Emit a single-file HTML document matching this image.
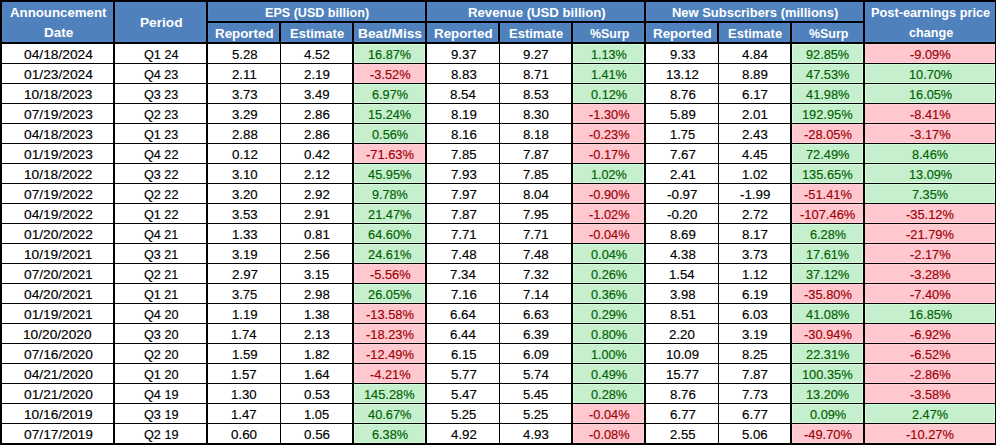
<!DOCTYPE html>
<html><head><meta charset="utf-8"><style>
html,body{margin:0;padding:0;}
body{width:996px;height:445px;background:#000;position:relative;overflow:hidden;font-family:"Liberation Sans",sans-serif;}
.r{position:absolute;}
.t{position:absolute;display:block;height:0;line-height:0;white-space:nowrap;transform-origin:0 0;-webkit-text-stroke:0.15px currentColor;}
</style></head><body>
<div class="r" style="left:2px;top:2px;width:111px;height:40px;background:#4F81BD;box-shadow:inset 0 0 0 1px #5285C3"></div>
<div class="r" style="left:115px;top:2px;width:91px;height:40px;background:#4F81BD;box-shadow:inset 0 0 0 1px #5285C3"></div>
<div class="r" style="left:208px;top:2px;width:217px;height:19px;background:#4F81BD;box-shadow:inset 0 0 0 1px #5285C3"></div>
<div class="r" style="left:427px;top:2px;width:217px;height:19px;background:#4F81BD;box-shadow:inset 0 0 0 1px #5285C3"></div>
<div class="r" style="left:646px;top:2px;width:217px;height:19px;background:#4F81BD;box-shadow:inset 0 0 0 1px #5285C3"></div>
<div class="r" style="left:865px;top:2px;width:130px;height:40px;background:#4F81BD;box-shadow:inset 0 0 0 1px #5285C3"></div>
<div class="r" style="left:208px;top:23px;width:71px;height:19px;background:#4F81BD;box-shadow:inset 0 0 0 1px #5285C3"></div>
<div class="r" style="left:281px;top:23px;width:71px;height:19px;background:#4F81BD;box-shadow:inset 0 0 0 1px #5285C3"></div>
<div class="r" style="left:354px;top:23px;width:71px;height:19px;background:#4F81BD;box-shadow:inset 0 0 0 1px #5285C3"></div>
<div class="r" style="left:427px;top:23px;width:71px;height:19px;background:#4F81BD;box-shadow:inset 0 0 0 1px #5285C3"></div>
<div class="r" style="left:500px;top:23px;width:71px;height:19px;background:#4F81BD;box-shadow:inset 0 0 0 1px #5285C3"></div>
<div class="r" style="left:573px;top:23px;width:71px;height:19px;background:#4F81BD;box-shadow:inset 0 0 0 1px #5285C3"></div>
<div class="r" style="left:646px;top:23px;width:71px;height:19px;background:#4F81BD;box-shadow:inset 0 0 0 1px #5285C3"></div>
<div class="r" style="left:719px;top:23px;width:71px;height:19px;background:#4F81BD;box-shadow:inset 0 0 0 1px #5285C3"></div>
<div class="r" style="left:792px;top:23px;width:71px;height:19px;background:#4F81BD;box-shadow:inset 0 0 0 1px #5285C3"></div>
<div class="r" style="left:2px;top:44px;width:111px;height:19px;background:#fff"></div>
<div class="r" style="left:115px;top:44px;width:91px;height:19px;background:#fff"></div>
<div class="r" style="left:208px;top:44px;width:72px;height:19px;background:#fff"></div>
<div class="r" style="left:281px;top:44px;width:71px;height:19px;background:#fff"></div>
<div class="r" style="left:354px;top:44px;width:71px;height:19px;background:#C6EFCE;box-shadow:inset 0 0 0 1px #D2FBDA"></div>
<div class="r" style="left:427px;top:44px;width:72px;height:19px;background:#fff"></div>
<div class="r" style="left:500px;top:44px;width:71px;height:19px;background:#fff"></div>
<div class="r" style="left:573px;top:44px;width:71px;height:19px;background:#C6EFCE;box-shadow:inset 0 0 0 1px #D2FBDA"></div>
<div class="r" style="left:646px;top:44px;width:72px;height:19px;background:#fff"></div>
<div class="r" style="left:719px;top:44px;width:71px;height:19px;background:#fff"></div>
<div class="r" style="left:792px;top:44px;width:71px;height:19px;background:#C6EFCE;box-shadow:inset 0 0 0 1px #D2FBDA"></div>
<div class="r" style="left:865px;top:44px;width:130px;height:19px;background:#FFC7CE;box-shadow:inset 0 0 0 1px #FFD2D8"></div>
<div class="r" style="left:2px;top:64px;width:111px;height:19px;background:#fff"></div>
<div class="r" style="left:115px;top:64px;width:91px;height:19px;background:#fff"></div>
<div class="r" style="left:208px;top:64px;width:72px;height:19px;background:#fff"></div>
<div class="r" style="left:281px;top:64px;width:71px;height:19px;background:#fff"></div>
<div class="r" style="left:354px;top:64px;width:71px;height:19px;background:#FFC7CE;box-shadow:inset 0 0 0 1px #FFD2D8"></div>
<div class="r" style="left:427px;top:64px;width:72px;height:19px;background:#fff"></div>
<div class="r" style="left:500px;top:64px;width:71px;height:19px;background:#fff"></div>
<div class="r" style="left:573px;top:64px;width:71px;height:19px;background:#C6EFCE;box-shadow:inset 0 0 0 1px #D2FBDA"></div>
<div class="r" style="left:646px;top:64px;width:72px;height:19px;background:#fff"></div>
<div class="r" style="left:719px;top:64px;width:71px;height:19px;background:#fff"></div>
<div class="r" style="left:792px;top:64px;width:71px;height:19px;background:#C6EFCE;box-shadow:inset 0 0 0 1px #D2FBDA"></div>
<div class="r" style="left:865px;top:64px;width:130px;height:19px;background:#C6EFCE;box-shadow:inset 0 0 0 1px #D2FBDA"></div>
<div class="r" style="left:2px;top:84px;width:111px;height:19px;background:#fff"></div>
<div class="r" style="left:115px;top:84px;width:91px;height:19px;background:#fff"></div>
<div class="r" style="left:208px;top:84px;width:72px;height:19px;background:#fff"></div>
<div class="r" style="left:281px;top:84px;width:71px;height:19px;background:#fff"></div>
<div class="r" style="left:354px;top:84px;width:71px;height:19px;background:#C6EFCE;box-shadow:inset 0 0 0 1px #D2FBDA"></div>
<div class="r" style="left:427px;top:84px;width:72px;height:19px;background:#fff"></div>
<div class="r" style="left:500px;top:84px;width:71px;height:19px;background:#fff"></div>
<div class="r" style="left:573px;top:84px;width:71px;height:19px;background:#C6EFCE;box-shadow:inset 0 0 0 1px #D2FBDA"></div>
<div class="r" style="left:646px;top:84px;width:72px;height:19px;background:#fff"></div>
<div class="r" style="left:719px;top:84px;width:71px;height:19px;background:#fff"></div>
<div class="r" style="left:792px;top:84px;width:71px;height:19px;background:#C6EFCE;box-shadow:inset 0 0 0 1px #D2FBDA"></div>
<div class="r" style="left:865px;top:84px;width:130px;height:19px;background:#C6EFCE;box-shadow:inset 0 0 0 1px #D2FBDA"></div>
<div class="r" style="left:2px;top:104px;width:111px;height:19px;background:#fff"></div>
<div class="r" style="left:115px;top:104px;width:91px;height:19px;background:#fff"></div>
<div class="r" style="left:208px;top:104px;width:72px;height:19px;background:#fff"></div>
<div class="r" style="left:281px;top:104px;width:71px;height:19px;background:#fff"></div>
<div class="r" style="left:354px;top:104px;width:71px;height:19px;background:#C6EFCE;box-shadow:inset 0 0 0 1px #D2FBDA"></div>
<div class="r" style="left:427px;top:104px;width:72px;height:19px;background:#fff"></div>
<div class="r" style="left:500px;top:104px;width:71px;height:19px;background:#fff"></div>
<div class="r" style="left:573px;top:104px;width:71px;height:19px;background:#FFC7CE;box-shadow:inset 0 0 0 1px #FFD2D8"></div>
<div class="r" style="left:646px;top:104px;width:72px;height:19px;background:#fff"></div>
<div class="r" style="left:719px;top:104px;width:71px;height:19px;background:#fff"></div>
<div class="r" style="left:792px;top:104px;width:71px;height:19px;background:#C6EFCE;box-shadow:inset 0 0 0 1px #D2FBDA"></div>
<div class="r" style="left:865px;top:104px;width:130px;height:19px;background:#FFC7CE;box-shadow:inset 0 0 0 1px #FFD2D8"></div>
<div class="r" style="left:2px;top:124px;width:111px;height:19px;background:#fff"></div>
<div class="r" style="left:115px;top:124px;width:91px;height:19px;background:#fff"></div>
<div class="r" style="left:208px;top:124px;width:72px;height:19px;background:#fff"></div>
<div class="r" style="left:281px;top:124px;width:71px;height:19px;background:#fff"></div>
<div class="r" style="left:354px;top:124px;width:71px;height:19px;background:#C6EFCE;box-shadow:inset 0 0 0 1px #D2FBDA"></div>
<div class="r" style="left:427px;top:124px;width:72px;height:19px;background:#fff"></div>
<div class="r" style="left:500px;top:124px;width:71px;height:19px;background:#fff"></div>
<div class="r" style="left:573px;top:124px;width:71px;height:19px;background:#FFC7CE;box-shadow:inset 0 0 0 1px #FFD2D8"></div>
<div class="r" style="left:646px;top:124px;width:72px;height:19px;background:#fff"></div>
<div class="r" style="left:719px;top:124px;width:71px;height:19px;background:#fff"></div>
<div class="r" style="left:792px;top:124px;width:71px;height:19px;background:#FFC7CE;box-shadow:inset 0 0 0 1px #FFD2D8"></div>
<div class="r" style="left:865px;top:124px;width:130px;height:19px;background:#FFC7CE;box-shadow:inset 0 0 0 1px #FFD2D8"></div>
<div class="r" style="left:2px;top:144px;width:111px;height:19px;background:#fff"></div>
<div class="r" style="left:115px;top:144px;width:91px;height:19px;background:#fff"></div>
<div class="r" style="left:208px;top:144px;width:72px;height:19px;background:#fff"></div>
<div class="r" style="left:281px;top:144px;width:71px;height:19px;background:#fff"></div>
<div class="r" style="left:354px;top:144px;width:71px;height:19px;background:#FFC7CE;box-shadow:inset 0 0 0 1px #FFD2D8"></div>
<div class="r" style="left:427px;top:144px;width:72px;height:19px;background:#fff"></div>
<div class="r" style="left:500px;top:144px;width:71px;height:19px;background:#fff"></div>
<div class="r" style="left:573px;top:144px;width:71px;height:19px;background:#FFC7CE;box-shadow:inset 0 0 0 1px #FFD2D8"></div>
<div class="r" style="left:646px;top:144px;width:72px;height:19px;background:#fff"></div>
<div class="r" style="left:719px;top:144px;width:71px;height:19px;background:#fff"></div>
<div class="r" style="left:792px;top:144px;width:71px;height:19px;background:#C6EFCE;box-shadow:inset 0 0 0 1px #D2FBDA"></div>
<div class="r" style="left:865px;top:144px;width:130px;height:19px;background:#C6EFCE;box-shadow:inset 0 0 0 1px #D2FBDA"></div>
<div class="r" style="left:2px;top:164px;width:111px;height:19px;background:#fff"></div>
<div class="r" style="left:115px;top:164px;width:91px;height:19px;background:#fff"></div>
<div class="r" style="left:208px;top:164px;width:72px;height:19px;background:#fff"></div>
<div class="r" style="left:281px;top:164px;width:71px;height:19px;background:#fff"></div>
<div class="r" style="left:354px;top:164px;width:71px;height:19px;background:#C6EFCE;box-shadow:inset 0 0 0 1px #D2FBDA"></div>
<div class="r" style="left:427px;top:164px;width:72px;height:19px;background:#fff"></div>
<div class="r" style="left:500px;top:164px;width:71px;height:19px;background:#fff"></div>
<div class="r" style="left:573px;top:164px;width:71px;height:19px;background:#C6EFCE;box-shadow:inset 0 0 0 1px #D2FBDA"></div>
<div class="r" style="left:646px;top:164px;width:72px;height:19px;background:#fff"></div>
<div class="r" style="left:719px;top:164px;width:71px;height:19px;background:#fff"></div>
<div class="r" style="left:792px;top:164px;width:71px;height:19px;background:#C6EFCE;box-shadow:inset 0 0 0 1px #D2FBDA"></div>
<div class="r" style="left:865px;top:164px;width:130px;height:19px;background:#C6EFCE;box-shadow:inset 0 0 0 1px #D2FBDA"></div>
<div class="r" style="left:2px;top:184px;width:111px;height:19px;background:#fff"></div>
<div class="r" style="left:115px;top:184px;width:91px;height:19px;background:#fff"></div>
<div class="r" style="left:208px;top:184px;width:72px;height:19px;background:#fff"></div>
<div class="r" style="left:281px;top:184px;width:71px;height:19px;background:#fff"></div>
<div class="r" style="left:354px;top:184px;width:71px;height:19px;background:#C6EFCE;box-shadow:inset 0 0 0 1px #D2FBDA"></div>
<div class="r" style="left:427px;top:184px;width:72px;height:19px;background:#fff"></div>
<div class="r" style="left:500px;top:184px;width:71px;height:19px;background:#fff"></div>
<div class="r" style="left:573px;top:184px;width:71px;height:19px;background:#FFC7CE;box-shadow:inset 0 0 0 1px #FFD2D8"></div>
<div class="r" style="left:646px;top:184px;width:72px;height:19px;background:#fff"></div>
<div class="r" style="left:719px;top:184px;width:71px;height:19px;background:#fff"></div>
<div class="r" style="left:792px;top:184px;width:71px;height:19px;background:#FFC7CE;box-shadow:inset 0 0 0 1px #FFD2D8"></div>
<div class="r" style="left:865px;top:184px;width:130px;height:19px;background:#C6EFCE;box-shadow:inset 0 0 0 1px #D2FBDA"></div>
<div class="r" style="left:2px;top:204px;width:111px;height:19px;background:#fff"></div>
<div class="r" style="left:115px;top:204px;width:91px;height:19px;background:#fff"></div>
<div class="r" style="left:208px;top:204px;width:72px;height:19px;background:#fff"></div>
<div class="r" style="left:281px;top:204px;width:71px;height:19px;background:#fff"></div>
<div class="r" style="left:354px;top:204px;width:71px;height:19px;background:#C6EFCE;box-shadow:inset 0 0 0 1px #D2FBDA"></div>
<div class="r" style="left:427px;top:204px;width:72px;height:19px;background:#fff"></div>
<div class="r" style="left:500px;top:204px;width:71px;height:19px;background:#fff"></div>
<div class="r" style="left:573px;top:204px;width:71px;height:19px;background:#FFC7CE;box-shadow:inset 0 0 0 1px #FFD2D8"></div>
<div class="r" style="left:646px;top:204px;width:72px;height:19px;background:#fff"></div>
<div class="r" style="left:719px;top:204px;width:71px;height:19px;background:#fff"></div>
<div class="r" style="left:792px;top:204px;width:71px;height:19px;background:#FFC7CE;box-shadow:inset 0 0 0 1px #FFD2D8"></div>
<div class="r" style="left:865px;top:204px;width:130px;height:19px;background:#FFC7CE;box-shadow:inset 0 0 0 1px #FFD2D8"></div>
<div class="r" style="left:2px;top:224px;width:111px;height:19px;background:#fff"></div>
<div class="r" style="left:115px;top:224px;width:91px;height:19px;background:#fff"></div>
<div class="r" style="left:208px;top:224px;width:72px;height:19px;background:#fff"></div>
<div class="r" style="left:281px;top:224px;width:71px;height:19px;background:#fff"></div>
<div class="r" style="left:354px;top:224px;width:71px;height:19px;background:#C6EFCE;box-shadow:inset 0 0 0 1px #D2FBDA"></div>
<div class="r" style="left:427px;top:224px;width:72px;height:19px;background:#fff"></div>
<div class="r" style="left:500px;top:224px;width:71px;height:19px;background:#fff"></div>
<div class="r" style="left:573px;top:224px;width:71px;height:19px;background:#FFC7CE;box-shadow:inset 0 0 0 1px #FFD2D8"></div>
<div class="r" style="left:646px;top:224px;width:72px;height:19px;background:#fff"></div>
<div class="r" style="left:719px;top:224px;width:71px;height:19px;background:#fff"></div>
<div class="r" style="left:792px;top:224px;width:71px;height:19px;background:#C6EFCE;box-shadow:inset 0 0 0 1px #D2FBDA"></div>
<div class="r" style="left:865px;top:224px;width:130px;height:19px;background:#FFC7CE;box-shadow:inset 0 0 0 1px #FFD2D8"></div>
<div class="r" style="left:2px;top:244px;width:111px;height:19px;background:#fff"></div>
<div class="r" style="left:115px;top:244px;width:91px;height:19px;background:#fff"></div>
<div class="r" style="left:208px;top:244px;width:72px;height:19px;background:#fff"></div>
<div class="r" style="left:281px;top:244px;width:71px;height:19px;background:#fff"></div>
<div class="r" style="left:354px;top:244px;width:71px;height:19px;background:#C6EFCE;box-shadow:inset 0 0 0 1px #D2FBDA"></div>
<div class="r" style="left:427px;top:244px;width:72px;height:19px;background:#fff"></div>
<div class="r" style="left:500px;top:244px;width:71px;height:19px;background:#fff"></div>
<div class="r" style="left:573px;top:244px;width:71px;height:19px;background:#C6EFCE;box-shadow:inset 0 0 0 1px #D2FBDA"></div>
<div class="r" style="left:646px;top:244px;width:72px;height:19px;background:#fff"></div>
<div class="r" style="left:719px;top:244px;width:71px;height:19px;background:#fff"></div>
<div class="r" style="left:792px;top:244px;width:71px;height:19px;background:#C6EFCE;box-shadow:inset 0 0 0 1px #D2FBDA"></div>
<div class="r" style="left:865px;top:244px;width:130px;height:19px;background:#FFC7CE;box-shadow:inset 0 0 0 1px #FFD2D8"></div>
<div class="r" style="left:2px;top:264px;width:111px;height:19px;background:#fff"></div>
<div class="r" style="left:115px;top:264px;width:91px;height:19px;background:#fff"></div>
<div class="r" style="left:208px;top:264px;width:72px;height:19px;background:#fff"></div>
<div class="r" style="left:281px;top:264px;width:71px;height:19px;background:#fff"></div>
<div class="r" style="left:354px;top:264px;width:71px;height:19px;background:#FFC7CE;box-shadow:inset 0 0 0 1px #FFD2D8"></div>
<div class="r" style="left:427px;top:264px;width:72px;height:19px;background:#fff"></div>
<div class="r" style="left:500px;top:264px;width:71px;height:19px;background:#fff"></div>
<div class="r" style="left:573px;top:264px;width:71px;height:19px;background:#C6EFCE;box-shadow:inset 0 0 0 1px #D2FBDA"></div>
<div class="r" style="left:646px;top:264px;width:72px;height:19px;background:#fff"></div>
<div class="r" style="left:719px;top:264px;width:71px;height:19px;background:#fff"></div>
<div class="r" style="left:792px;top:264px;width:71px;height:19px;background:#C6EFCE;box-shadow:inset 0 0 0 1px #D2FBDA"></div>
<div class="r" style="left:865px;top:264px;width:130px;height:19px;background:#FFC7CE;box-shadow:inset 0 0 0 1px #FFD2D8"></div>
<div class="r" style="left:2px;top:284px;width:111px;height:19px;background:#fff"></div>
<div class="r" style="left:115px;top:284px;width:91px;height:19px;background:#fff"></div>
<div class="r" style="left:208px;top:284px;width:72px;height:19px;background:#fff"></div>
<div class="r" style="left:281px;top:284px;width:71px;height:19px;background:#fff"></div>
<div class="r" style="left:354px;top:284px;width:71px;height:19px;background:#C6EFCE;box-shadow:inset 0 0 0 1px #D2FBDA"></div>
<div class="r" style="left:427px;top:284px;width:72px;height:19px;background:#fff"></div>
<div class="r" style="left:500px;top:284px;width:71px;height:19px;background:#fff"></div>
<div class="r" style="left:573px;top:284px;width:71px;height:19px;background:#C6EFCE;box-shadow:inset 0 0 0 1px #D2FBDA"></div>
<div class="r" style="left:646px;top:284px;width:72px;height:19px;background:#fff"></div>
<div class="r" style="left:719px;top:284px;width:71px;height:19px;background:#fff"></div>
<div class="r" style="left:792px;top:284px;width:71px;height:19px;background:#FFC7CE;box-shadow:inset 0 0 0 1px #FFD2D8"></div>
<div class="r" style="left:865px;top:284px;width:130px;height:19px;background:#FFC7CE;box-shadow:inset 0 0 0 1px #FFD2D8"></div>
<div class="r" style="left:2px;top:304px;width:111px;height:19px;background:#fff"></div>
<div class="r" style="left:115px;top:304px;width:91px;height:19px;background:#fff"></div>
<div class="r" style="left:208px;top:304px;width:72px;height:19px;background:#fff"></div>
<div class="r" style="left:281px;top:304px;width:71px;height:19px;background:#fff"></div>
<div class="r" style="left:354px;top:304px;width:71px;height:19px;background:#FFC7CE;box-shadow:inset 0 0 0 1px #FFD2D8"></div>
<div class="r" style="left:427px;top:304px;width:72px;height:19px;background:#fff"></div>
<div class="r" style="left:500px;top:304px;width:71px;height:19px;background:#fff"></div>
<div class="r" style="left:573px;top:304px;width:71px;height:19px;background:#C6EFCE;box-shadow:inset 0 0 0 1px #D2FBDA"></div>
<div class="r" style="left:646px;top:304px;width:72px;height:19px;background:#fff"></div>
<div class="r" style="left:719px;top:304px;width:71px;height:19px;background:#fff"></div>
<div class="r" style="left:792px;top:304px;width:71px;height:19px;background:#C6EFCE;box-shadow:inset 0 0 0 1px #D2FBDA"></div>
<div class="r" style="left:865px;top:304px;width:130px;height:19px;background:#C6EFCE;box-shadow:inset 0 0 0 1px #D2FBDA"></div>
<div class="r" style="left:2px;top:324px;width:111px;height:19px;background:#fff"></div>
<div class="r" style="left:115px;top:324px;width:91px;height:19px;background:#fff"></div>
<div class="r" style="left:208px;top:324px;width:72px;height:19px;background:#fff"></div>
<div class="r" style="left:281px;top:324px;width:71px;height:19px;background:#fff"></div>
<div class="r" style="left:354px;top:324px;width:71px;height:19px;background:#FFC7CE;box-shadow:inset 0 0 0 1px #FFD2D8"></div>
<div class="r" style="left:427px;top:324px;width:72px;height:19px;background:#fff"></div>
<div class="r" style="left:500px;top:324px;width:71px;height:19px;background:#fff"></div>
<div class="r" style="left:573px;top:324px;width:71px;height:19px;background:#C6EFCE;box-shadow:inset 0 0 0 1px #D2FBDA"></div>
<div class="r" style="left:646px;top:324px;width:72px;height:19px;background:#fff"></div>
<div class="r" style="left:719px;top:324px;width:71px;height:19px;background:#fff"></div>
<div class="r" style="left:792px;top:324px;width:71px;height:19px;background:#FFC7CE;box-shadow:inset 0 0 0 1px #FFD2D8"></div>
<div class="r" style="left:865px;top:324px;width:130px;height:19px;background:#FFC7CE;box-shadow:inset 0 0 0 1px #FFD2D8"></div>
<div class="r" style="left:2px;top:344px;width:111px;height:19px;background:#fff"></div>
<div class="r" style="left:115px;top:344px;width:91px;height:19px;background:#fff"></div>
<div class="r" style="left:208px;top:344px;width:72px;height:19px;background:#fff"></div>
<div class="r" style="left:281px;top:344px;width:71px;height:19px;background:#fff"></div>
<div class="r" style="left:354px;top:344px;width:71px;height:19px;background:#FFC7CE;box-shadow:inset 0 0 0 1px #FFD2D8"></div>
<div class="r" style="left:427px;top:344px;width:72px;height:19px;background:#fff"></div>
<div class="r" style="left:500px;top:344px;width:71px;height:19px;background:#fff"></div>
<div class="r" style="left:573px;top:344px;width:71px;height:19px;background:#C6EFCE;box-shadow:inset 0 0 0 1px #D2FBDA"></div>
<div class="r" style="left:646px;top:344px;width:72px;height:19px;background:#fff"></div>
<div class="r" style="left:719px;top:344px;width:71px;height:19px;background:#fff"></div>
<div class="r" style="left:792px;top:344px;width:71px;height:19px;background:#C6EFCE;box-shadow:inset 0 0 0 1px #D2FBDA"></div>
<div class="r" style="left:865px;top:344px;width:130px;height:19px;background:#FFC7CE;box-shadow:inset 0 0 0 1px #FFD2D8"></div>
<div class="r" style="left:2px;top:364px;width:111px;height:19px;background:#fff"></div>
<div class="r" style="left:115px;top:364px;width:91px;height:19px;background:#fff"></div>
<div class="r" style="left:208px;top:364px;width:72px;height:19px;background:#fff"></div>
<div class="r" style="left:281px;top:364px;width:71px;height:19px;background:#fff"></div>
<div class="r" style="left:354px;top:364px;width:71px;height:19px;background:#FFC7CE;box-shadow:inset 0 0 0 1px #FFD2D8"></div>
<div class="r" style="left:427px;top:364px;width:72px;height:19px;background:#fff"></div>
<div class="r" style="left:500px;top:364px;width:71px;height:19px;background:#fff"></div>
<div class="r" style="left:573px;top:364px;width:71px;height:19px;background:#C6EFCE;box-shadow:inset 0 0 0 1px #D2FBDA"></div>
<div class="r" style="left:646px;top:364px;width:72px;height:19px;background:#fff"></div>
<div class="r" style="left:719px;top:364px;width:71px;height:19px;background:#fff"></div>
<div class="r" style="left:792px;top:364px;width:71px;height:19px;background:#C6EFCE;box-shadow:inset 0 0 0 1px #D2FBDA"></div>
<div class="r" style="left:865px;top:364px;width:130px;height:19px;background:#FFC7CE;box-shadow:inset 0 0 0 1px #FFD2D8"></div>
<div class="r" style="left:2px;top:384px;width:111px;height:19px;background:#fff"></div>
<div class="r" style="left:115px;top:384px;width:91px;height:19px;background:#fff"></div>
<div class="r" style="left:208px;top:384px;width:72px;height:19px;background:#fff"></div>
<div class="r" style="left:281px;top:384px;width:71px;height:19px;background:#fff"></div>
<div class="r" style="left:354px;top:384px;width:71px;height:19px;background:#C6EFCE;box-shadow:inset 0 0 0 1px #D2FBDA"></div>
<div class="r" style="left:427px;top:384px;width:72px;height:19px;background:#fff"></div>
<div class="r" style="left:500px;top:384px;width:71px;height:19px;background:#fff"></div>
<div class="r" style="left:573px;top:384px;width:71px;height:19px;background:#C6EFCE;box-shadow:inset 0 0 0 1px #D2FBDA"></div>
<div class="r" style="left:646px;top:384px;width:72px;height:19px;background:#fff"></div>
<div class="r" style="left:719px;top:384px;width:71px;height:19px;background:#fff"></div>
<div class="r" style="left:792px;top:384px;width:71px;height:19px;background:#C6EFCE;box-shadow:inset 0 0 0 1px #D2FBDA"></div>
<div class="r" style="left:865px;top:384px;width:130px;height:19px;background:#FFC7CE;box-shadow:inset 0 0 0 1px #FFD2D8"></div>
<div class="r" style="left:2px;top:404px;width:111px;height:19px;background:#fff"></div>
<div class="r" style="left:115px;top:404px;width:91px;height:19px;background:#fff"></div>
<div class="r" style="left:208px;top:404px;width:72px;height:19px;background:#fff"></div>
<div class="r" style="left:281px;top:404px;width:71px;height:19px;background:#fff"></div>
<div class="r" style="left:354px;top:404px;width:71px;height:19px;background:#C6EFCE;box-shadow:inset 0 0 0 1px #D2FBDA"></div>
<div class="r" style="left:427px;top:404px;width:72px;height:19px;background:#fff"></div>
<div class="r" style="left:500px;top:404px;width:71px;height:19px;background:#fff"></div>
<div class="r" style="left:573px;top:404px;width:71px;height:19px;background:#FFC7CE;box-shadow:inset 0 0 0 1px #FFD2D8"></div>
<div class="r" style="left:646px;top:404px;width:72px;height:19px;background:#fff"></div>
<div class="r" style="left:719px;top:404px;width:71px;height:19px;background:#fff"></div>
<div class="r" style="left:792px;top:404px;width:71px;height:19px;background:#C6EFCE;box-shadow:inset 0 0 0 1px #D2FBDA"></div>
<div class="r" style="left:865px;top:404px;width:130px;height:19px;background:#C6EFCE;box-shadow:inset 0 0 0 1px #D2FBDA"></div>
<div class="r" style="left:2px;top:424px;width:111px;height:19px;background:#fff"></div>
<div class="r" style="left:115px;top:424px;width:91px;height:19px;background:#fff"></div>
<div class="r" style="left:208px;top:424px;width:72px;height:19px;background:#fff"></div>
<div class="r" style="left:281px;top:424px;width:71px;height:19px;background:#fff"></div>
<div class="r" style="left:354px;top:424px;width:71px;height:19px;background:#C6EFCE;box-shadow:inset 0 0 0 1px #D2FBDA"></div>
<div class="r" style="left:427px;top:424px;width:72px;height:19px;background:#fff"></div>
<div class="r" style="left:500px;top:424px;width:71px;height:19px;background:#fff"></div>
<div class="r" style="left:573px;top:424px;width:71px;height:19px;background:#FFC7CE;box-shadow:inset 0 0 0 1px #FFD2D8"></div>
<div class="r" style="left:646px;top:424px;width:72px;height:19px;background:#fff"></div>
<div class="r" style="left:719px;top:424px;width:71px;height:19px;background:#fff"></div>
<div class="r" style="left:792px;top:424px;width:71px;height:19px;background:#FFC7CE;box-shadow:inset 0 0 0 1px #FFD2D8"></div>
<div class="r" style="left:865px;top:424px;width:130px;height:19px;background:#FFC7CE;box-shadow:inset 0 0 0 1px #FFD2D8"></div>
<span class="t" style="left:9.67px;top:13px;font-weight:bold;-webkit-text-stroke:0;color:#fff;font-size:12.5px;transform:scaleX(1.0607)">Announcement</span>
<span class="t" style="left:43.69px;top:33px;font-weight:bold;-webkit-text-stroke:0;color:#fff;font-size:12.5px;transform:scaleX(1.0840)">Date</span>
<span class="t" style="left:140.49px;top:23px;font-weight:bold;-webkit-text-stroke:0;color:#fff;font-size:12.5px;transform:scaleX(1.0930)">Period</span>
<span class="t" style="left:264.66px;top:13px;font-weight:bold;-webkit-text-stroke:0;color:#fff;font-size:12.5px;transform:scaleX(1.0057)">EPS (USD billion)</span>
<span class="t" style="left:467.52px;top:13px;font-weight:bold;-webkit-text-stroke:0;color:#fff;font-size:12.5px;transform:scaleX(1.0549)">Revenue (USD billion)</span>
<span class="t" style="left:672.13px;top:13px;font-weight:bold;-webkit-text-stroke:0;color:#fff;font-size:12.5px;transform:scaleX(1.0359)">New Subscribers (millions)</span>
<span class="t" style="left:871.05px;top:13px;font-weight:bold;-webkit-text-stroke:0;color:#fff;font-size:12.5px;transform:scaleX(1.0213)">Post-earnings price</span>
<span class="t" style="left:908.61px;top:33px;font-weight:bold;-webkit-text-stroke:0;color:#fff;font-size:12.5px;transform:scaleX(1.0106)">change</span>
<span class="t" style="left:214.84px;top:34px;font-weight:bold;-webkit-text-stroke:0;color:#fff;font-size:12.5px;transform:scaleX(1.0670)">Reported</span>
<span class="t" style="left:289.53px;top:34px;font-weight:bold;-webkit-text-stroke:0;color:#fff;font-size:12.5px;transform:scaleX(1.0385)">Estimate</span>
<span class="t" style="left:358.38px;top:34px;font-weight:bold;-webkit-text-stroke:0;color:#fff;font-size:12.5px;transform:scaleX(1.0964)">Beat/Miss</span>
<span class="t" style="left:433.84px;top:34px;font-weight:bold;-webkit-text-stroke:0;color:#fff;font-size:12.5px;transform:scaleX(1.0670)">Reported</span>
<span class="t" style="left:508.53px;top:34px;font-weight:bold;-webkit-text-stroke:0;color:#fff;font-size:12.5px;transform:scaleX(1.0385)">Estimate</span>
<span class="t" style="left:590.19px;top:34px;font-weight:bold;-webkit-text-stroke:0;color:#fff;font-size:12.5px;transform:scaleX(0.9958)">%Surp</span>
<span class="t" style="left:652.84px;top:34px;font-weight:bold;-webkit-text-stroke:0;color:#fff;font-size:12.5px;transform:scaleX(1.0670)">Reported</span>
<span class="t" style="left:727.53px;top:34px;font-weight:bold;-webkit-text-stroke:0;color:#fff;font-size:12.5px;transform:scaleX(1.0385)">Estimate</span>
<span class="t" style="left:809.19px;top:34px;font-weight:bold;-webkit-text-stroke:0;color:#fff;font-size:12.5px;transform:scaleX(0.9958)">%Surp</span>
<span class="t" style="left:23.50px;top:55px;color:#000;font-size:12.5px;transform:scaleX(1.1009)">04/18/2024</span>
<span class="t" style="left:143.63px;top:55px;color:#000;font-size:12.5px;transform:scaleX(1.0135)">Q1 24</span>
<span class="t" style="left:231.72px;top:55px;color:#000;font-size:12.5px;transform:scaleX(1.0523)">5.28</span>
<span class="t" style="left:304.26px;top:55px;color:#000;font-size:12.5px;transform:scaleX(1.0626)">4.52</span>
<span class="t" style="left:368.15px;top:55px;color:#006100;font-size:12.5px;transform:scaleX(1.0186)">16.87%</span>
<span class="t" style="left:450.71px;top:55px;color:#000;font-size:12.5px;transform:scaleX(1.0533)">9.37</span>
<span class="t" style="left:523.21px;top:55px;color:#000;font-size:12.5px;transform:scaleX(1.0533)">9.27</span>
<span class="t" style="left:590.84px;top:55px;color:#006100;font-size:12.5px;transform:scaleX(1.0104)">1.13%</span>
<span class="t" style="left:669.76px;top:55px;color:#000;font-size:12.5px;transform:scaleX(1.0461)">9.33</span>
<span class="t" style="left:742.07px;top:55px;color:#000;font-size:12.5px;transform:scaleX(1.0667)">4.84</span>
<span class="t" style="left:806.36px;top:55px;color:#006100;font-size:12.5px;transform:scaleX(1.0175)">92.85%</span>
<span class="t" style="left:910.15px;top:55px;color:#9C0006;font-size:12.5px;transform:scaleX(1.0250)">-9.09%</span>
<span class="t" style="left:23.50px;top:75px;color:#000;font-size:12.5px;transform:scaleX(1.1009)">01/23/2024</span>
<span class="t" style="left:143.79px;top:75px;color:#000;font-size:12.5px;transform:scaleX(1.0098)">Q4 23</span>
<span class="t" style="left:231.61px;top:75px;color:#000;font-size:12.5px;transform:scaleX(1.0585)">2.11</span>
<span class="t" style="left:304.03px;top:75px;color:#000;font-size:12.5px;transform:scaleX(1.0644)">2.19</span>
<span class="t" style="left:369.65px;top:75px;color:#9C0006;font-size:12.5px;transform:scaleX(1.0250)">-3.52%</span>
<span class="t" style="left:450.62px;top:75px;color:#000;font-size:12.5px;transform:scaleX(1.0591)">8.83</span>
<span class="t" style="left:523.17px;top:75px;color:#000;font-size:12.5px;transform:scaleX(1.0576)">8.71</span>
<span class="t" style="left:590.84px;top:75px;color:#006100;font-size:12.5px;transform:scaleX(1.0104)">1.41%</span>
<span class="t" style="left:665.88px;top:75px;color:#000;font-size:12.5px;transform:scaleX(1.0516)">13.12</span>
<span class="t" style="left:742.09px;top:75px;color:#000;font-size:12.5px;transform:scaleX(1.0635)">8.89</span>
<span class="t" style="left:806.32px;top:75px;color:#006100;font-size:12.5px;transform:scaleX(1.0265)">47.53%</span>
<span class="t" style="left:908.65px;top:75px;color:#006100;font-size:12.5px;transform:scaleX(1.0186)">10.70%</span>
<span class="t" style="left:23.58px;top:95px;color:#000;font-size:12.5px;transform:scaleX(1.0935)">10/18/2023</span>
<span class="t" style="left:143.79px;top:95px;color:#000;font-size:12.5px;transform:scaleX(1.0098)">Q3 23</span>
<span class="t" style="left:231.74px;top:95px;color:#000;font-size:12.5px;transform:scaleX(1.0521)">3.73</span>
<span class="t" style="left:304.21px;top:95px;color:#000;font-size:12.5px;transform:scaleX(1.0565)">3.49</span>
<span class="t" style="left:371.85px;top:95px;color:#006100;font-size:12.5px;transform:scaleX(1.0186)">6.97%</span>
<span class="t" style="left:450.46px;top:95px;color:#000;font-size:12.5px;transform:scaleX(1.0641)">8.54</span>
<span class="t" style="left:523.12px;top:95px;color:#000;font-size:12.5px;transform:scaleX(1.0591)">8.53</span>
<span class="t" style="left:590.86px;top:95px;color:#006100;font-size:12.5px;transform:scaleX(1.0223)">0.12%</span>
<span class="t" style="left:669.59px;top:95px;color:#000;font-size:12.5px;transform:scaleX(1.0612)">8.76</span>
<span class="t" style="left:742.01px;top:95px;color:#000;font-size:12.5px;transform:scaleX(1.0676)">6.17</span>
<span class="t" style="left:806.32px;top:95px;color:#006100;font-size:12.5px;transform:scaleX(1.0265)">41.98%</span>
<span class="t" style="left:908.65px;top:95px;color:#006100;font-size:12.5px;transform:scaleX(1.0186)">16.05%</span>
<span class="t" style="left:23.65px;top:115px;color:#000;font-size:12.5px;transform:scaleX(1.0992)">07/19/2023</span>
<span class="t" style="left:143.79px;top:115px;color:#000;font-size:12.5px;transform:scaleX(1.0098)">Q2 23</span>
<span class="t" style="left:231.71px;top:115px;color:#000;font-size:12.5px;transform:scaleX(1.0565)">3.29</span>
<span class="t" style="left:304.04px;top:115px;color:#000;font-size:12.5px;transform:scaleX(1.0621)">2.86</span>
<span class="t" style="left:368.15px;top:115px;color:#006100;font-size:12.5px;transform:scaleX(1.0186)">15.24%</span>
<span class="t" style="left:450.59px;top:115px;color:#000;font-size:12.5px;transform:scaleX(1.0635)">8.19</span>
<span class="t" style="left:523.03px;top:115px;color:#000;font-size:12.5px;transform:scaleX(1.0639)">8.30</span>
<span class="t" style="left:588.65px;top:115px;color:#9C0006;font-size:12.5px;transform:scaleX(1.0250)">-1.30%</span>
<span class="t" style="left:669.68px;top:115px;color:#000;font-size:12.5px;transform:scaleX(1.0582)">5.89</span>
<span class="t" style="left:742.11px;top:115px;color:#000;font-size:12.5px;transform:scaleX(1.0585)">2.01</span>
<span class="t" style="left:802.46px;top:115px;color:#006100;font-size:12.5px;transform:scaleX(1.0244)">192.95%</span>
<span class="t" style="left:910.15px;top:115px;color:#9C0006;font-size:12.5px;transform:scaleX(1.0250)">-8.41%</span>
<span class="t" style="left:23.65px;top:135px;color:#000;font-size:12.5px;transform:scaleX(1.0992)">04/18/2023</span>
<span class="t" style="left:143.79px;top:135px;color:#000;font-size:12.5px;transform:scaleX(1.0098)">Q1 23</span>
<span class="t" style="left:231.58px;top:135px;color:#000;font-size:12.5px;transform:scaleX(1.0584)">2.88</span>
<span class="t" style="left:304.04px;top:135px;color:#000;font-size:12.5px;transform:scaleX(1.0621)">2.86</span>
<span class="t" style="left:371.86px;top:135px;color:#006100;font-size:12.5px;transform:scaleX(1.0223)">0.56%</span>
<span class="t" style="left:450.59px;top:135px;color:#000;font-size:12.5px;transform:scaleX(1.0612)">8.16</span>
<span class="t" style="left:523.13px;top:135px;color:#000;font-size:12.5px;transform:scaleX(1.0576)">8.18</span>
<span class="t" style="left:588.65px;top:135px;color:#9C0006;font-size:12.5px;transform:scaleX(1.0250)">-0.23%</span>
<span class="t" style="left:669.70px;top:135px;color:#000;font-size:12.5px;transform:scaleX(1.0341)">1.75</span>
<span class="t" style="left:742.06px;top:135px;color:#000;font-size:12.5px;transform:scaleX(1.0599)">2.43</span>
<span class="t" style="left:803.96px;top:135px;color:#9C0006;font-size:12.5px;transform:scaleX(1.0301)">-28.05%</span>
<span class="t" style="left:910.15px;top:135px;color:#9C0006;font-size:12.5px;transform:scaleX(1.0250)">-3.17%</span>
<span class="t" style="left:23.65px;top:155px;color:#000;font-size:12.5px;transform:scaleX(1.0992)">01/19/2023</span>
<span class="t" style="left:143.82px;top:155px;color:#000;font-size:12.5px;transform:scaleX(1.0104)">Q4 22</span>
<span class="t" style="left:231.60px;top:155px;color:#000;font-size:12.5px;transform:scaleX(1.0663)">0.12</span>
<span class="t" style="left:304.10px;top:155px;color:#000;font-size:12.5px;transform:scaleX(1.0663)">0.42</span>
<span class="t" style="left:365.96px;top:155px;color:#9C0006;font-size:12.5px;transform:scaleX(1.0301)">-71.63%</span>
<span class="t" style="left:450.74px;top:155px;color:#000;font-size:12.5px;transform:scaleX(1.0444)">7.85</span>
<span class="t" style="left:523.03px;top:155px;color:#000;font-size:12.5px;transform:scaleX(1.0660)">7.87</span>
<span class="t" style="left:588.65px;top:155px;color:#9C0006;font-size:12.5px;transform:scaleX(1.0250)">-0.17%</span>
<span class="t" style="left:669.53px;top:155px;color:#000;font-size:12.5px;transform:scaleX(1.0660)">7.67</span>
<span class="t" style="left:742.38px;top:155px;color:#000;font-size:12.5px;transform:scaleX(1.0477)">4.45</span>
<span class="t" style="left:806.18px;top:155px;color:#006100;font-size:12.5px;transform:scaleX(1.0245)">72.49%</span>
<span class="t" style="left:912.41px;top:155px;color:#006100;font-size:12.5px;transform:scaleX(1.0180)">8.46%</span>
<span class="t" style="left:23.61px;top:175px;color:#000;font-size:12.5px;transform:scaleX(1.0939)">10/18/2022</span>
<span class="t" style="left:143.82px;top:175px;color:#000;font-size:12.5px;transform:scaleX(1.0104)">Q3 22</span>
<span class="t" style="left:231.65px;top:175px;color:#000;font-size:12.5px;transform:scaleX(1.0569)">3.10</span>
<span class="t" style="left:304.10px;top:175px;color:#000;font-size:12.5px;transform:scaleX(1.0608)">2.12</span>
<span class="t" style="left:368.32px;top:175px;color:#006100;font-size:12.5px;transform:scaleX(1.0265)">45.95%</span>
<span class="t" style="left:450.57px;top:175px;color:#000;font-size:12.5px;transform:scaleX(1.0587)">7.93</span>
<span class="t" style="left:523.24px;top:175px;color:#000;font-size:12.5px;transform:scaleX(1.0444)">7.85</span>
<span class="t" style="left:590.84px;top:175px;color:#006100;font-size:12.5px;transform:scaleX(1.0104)">1.02%</span>
<span class="t" style="left:669.61px;top:175px;color:#000;font-size:12.5px;transform:scaleX(1.0585)">2.41</span>
<span class="t" style="left:742.06px;top:175px;color:#000;font-size:12.5px;transform:scaleX(1.0494)">1.02</span>
<span class="t" style="left:802.46px;top:175px;color:#006100;font-size:12.5px;transform:scaleX(1.0244)">135.65%</span>
<span class="t" style="left:908.65px;top:175px;color:#006100;font-size:12.5px;transform:scaleX(1.0186)">13.09%</span>
<span class="t" style="left:23.68px;top:195px;color:#000;font-size:12.5px;transform:scaleX(1.0996)">07/19/2022</span>
<span class="t" style="left:143.82px;top:195px;color:#000;font-size:12.5px;transform:scaleX(1.0104)">Q2 22</span>
<span class="t" style="left:231.65px;top:195px;color:#000;font-size:12.5px;transform:scaleX(1.0569)">3.20</span>
<span class="t" style="left:304.10px;top:195px;color:#000;font-size:12.5px;transform:scaleX(1.0608)">2.92</span>
<span class="t" style="left:372.05px;top:195px;color:#006100;font-size:12.5px;transform:scaleX(1.0092)">9.78%</span>
<span class="t" style="left:450.53px;top:195px;color:#000;font-size:12.5px;transform:scaleX(1.0660)">7.97</span>
<span class="t" style="left:522.96px;top:195px;color:#000;font-size:12.5px;transform:scaleX(1.0641)">8.04</span>
<span class="t" style="left:588.65px;top:195px;color:#9C0006;font-size:12.5px;transform:scaleX(1.0250)">-0.90%</span>
<span class="t" style="left:667.31px;top:195px;color:#000;font-size:12.5px;transform:scaleX(1.0689)">-0.97</span>
<span class="t" style="left:739.83px;top:195px;color:#000;font-size:12.5px;transform:scaleX(1.0665)">-1.99</span>
<span class="t" style="left:803.96px;top:195px;color:#9C0006;font-size:12.5px;transform:scaleX(1.0301)">-51.41%</span>
<span class="t" style="left:912.37px;top:195px;color:#006100;font-size:12.5px;transform:scaleX(1.0176)">7.35%</span>
<span class="t" style="left:23.68px;top:215px;color:#000;font-size:12.5px;transform:scaleX(1.0996)">04/19/2022</span>
<span class="t" style="left:143.82px;top:215px;color:#000;font-size:12.5px;transform:scaleX(1.0104)">Q1 22</span>
<span class="t" style="left:231.74px;top:215px;color:#000;font-size:12.5px;transform:scaleX(1.0521)">3.53</span>
<span class="t" style="left:304.11px;top:215px;color:#000;font-size:12.5px;transform:scaleX(1.0585)">2.91</span>
<span class="t" style="left:368.17px;top:215px;color:#006100;font-size:12.5px;transform:scaleX(1.0252)">21.47%</span>
<span class="t" style="left:450.53px;top:215px;color:#000;font-size:12.5px;transform:scaleX(1.0660)">7.87</span>
<span class="t" style="left:523.24px;top:215px;color:#000;font-size:12.5px;transform:scaleX(1.0444)">7.95</span>
<span class="t" style="left:588.65px;top:215px;color:#9C0006;font-size:12.5px;transform:scaleX(1.0250)">-1.02%</span>
<span class="t" style="left:667.27px;top:215px;color:#000;font-size:12.5px;transform:scaleX(1.0668)">-0.20</span>
<span class="t" style="left:742.10px;top:215px;color:#000;font-size:12.5px;transform:scaleX(1.0608)">2.72</span>
<span class="t" style="left:800.28px;top:215px;color:#9C0006;font-size:12.5px;transform:scaleX(1.0339)">-107.46%</span>
<span class="t" style="left:906.46px;top:215px;color:#9C0006;font-size:12.5px;transform:scaleX(1.0301)">-35.12%</span>
<span class="t" style="left:23.68px;top:235px;color:#000;font-size:12.5px;transform:scaleX(1.0996)">01/20/2022</span>
<span class="t" style="left:143.83px;top:235px;color:#000;font-size:12.5px;transform:scaleX(1.0088)">Q4 21</span>
<span class="t" style="left:231.53px;top:235px;color:#000;font-size:12.5px;transform:scaleX(1.0486)">1.33</span>
<span class="t" style="left:304.12px;top:235px;color:#000;font-size:12.5px;transform:scaleX(1.0640)">0.81</span>
<span class="t" style="left:368.17px;top:235px;color:#006100;font-size:12.5px;transform:scaleX(1.0254)">64.60%</span>
<span class="t" style="left:450.62px;top:235px;color:#000;font-size:12.5px;transform:scaleX(1.0572)">7.71</span>
<span class="t" style="left:523.12px;top:235px;color:#000;font-size:12.5px;transform:scaleX(1.0572)">7.71</span>
<span class="t" style="left:588.65px;top:235px;color:#9C0006;font-size:12.5px;transform:scaleX(1.0250)">-0.04%</span>
<span class="t" style="left:669.59px;top:235px;color:#000;font-size:12.5px;transform:scaleX(1.0635)">8.69</span>
<span class="t" style="left:742.07px;top:235px;color:#000;font-size:12.5px;transform:scaleX(1.0664)">8.17</span>
<span class="t" style="left:809.85px;top:235px;color:#006100;font-size:12.5px;transform:scaleX(1.0186)">6.28%</span>
<span class="t" style="left:906.46px;top:235px;color:#9C0006;font-size:12.5px;transform:scaleX(1.0301)">-21.79%</span>
<span class="t" style="left:23.62px;top:255px;color:#000;font-size:12.5px;transform:scaleX(1.0930)">10/19/2021</span>
<span class="t" style="left:143.83px;top:255px;color:#000;font-size:12.5px;transform:scaleX(1.0088)">Q3 21</span>
<span class="t" style="left:231.71px;top:255px;color:#000;font-size:12.5px;transform:scaleX(1.0565)">3.19</span>
<span class="t" style="left:304.04px;top:255px;color:#000;font-size:12.5px;transform:scaleX(1.0621)">2.56</span>
<span class="t" style="left:368.17px;top:255px;color:#006100;font-size:12.5px;transform:scaleX(1.0252)">24.61%</span>
<span class="t" style="left:450.59px;top:255px;color:#000;font-size:12.5px;transform:scaleX(1.0572)">7.48</span>
<span class="t" style="left:523.09px;top:255px;color:#000;font-size:12.5px;transform:scaleX(1.0572)">7.48</span>
<span class="t" style="left:590.86px;top:255px;color:#006100;font-size:12.5px;transform:scaleX(1.0223)">0.04%</span>
<span class="t" style="left:669.74px;top:255px;color:#000;font-size:12.5px;transform:scaleX(1.0602)">4.38</span>
<span class="t" style="left:742.24px;top:255px;color:#000;font-size:12.5px;transform:scaleX(1.0521)">3.73</span>
<span class="t" style="left:806.15px;top:255px;color:#006100;font-size:12.5px;transform:scaleX(1.0186)">17.61%</span>
<span class="t" style="left:910.15px;top:255px;color:#9C0006;font-size:12.5px;transform:scaleX(1.0250)">-2.17%</span>
<span class="t" style="left:23.70px;top:275px;color:#000;font-size:12.5px;transform:scaleX(1.0987)">07/20/2021</span>
<span class="t" style="left:143.83px;top:275px;color:#000;font-size:12.5px;transform:scaleX(1.0088)">Q2 21</span>
<span class="t" style="left:231.52px;top:275px;color:#000;font-size:12.5px;transform:scaleX(1.0673)">2.97</span>
<span class="t" style="left:304.40px;top:275px;color:#000;font-size:12.5px;transform:scaleX(1.0379)">3.15</span>
<span class="t" style="left:369.65px;top:275px;color:#9C0006;font-size:12.5px;transform:scaleX(1.0250)">-5.56%</span>
<span class="t" style="left:450.41px;top:275px;color:#000;font-size:12.5px;transform:scaleX(1.0637)">7.34</span>
<span class="t" style="left:523.10px;top:275px;color:#000;font-size:12.5px;transform:scaleX(1.0595)">7.32</span>
<span class="t" style="left:590.86px;top:275px;color:#006100;font-size:12.5px;transform:scaleX(1.0223)">0.26%</span>
<span class="t" style="left:669.37px;top:275px;color:#000;font-size:12.5px;transform:scaleX(1.0538)">1.54</span>
<span class="t" style="left:742.06px;top:275px;color:#000;font-size:12.5px;transform:scaleX(1.0494)">1.12</span>
<span class="t" style="left:806.34px;top:275px;color:#006100;font-size:12.5px;transform:scaleX(1.0209)">37.12%</span>
<span class="t" style="left:910.15px;top:275px;color:#9C0006;font-size:12.5px;transform:scaleX(1.0250)">-3.28%</span>
<span class="t" style="left:23.70px;top:295px;color:#000;font-size:12.5px;transform:scaleX(1.0987)">04/20/2021</span>
<span class="t" style="left:143.83px;top:295px;color:#000;font-size:12.5px;transform:scaleX(1.0088)">Q1 21</span>
<span class="t" style="left:231.90px;top:295px;color:#000;font-size:12.5px;transform:scaleX(1.0379)">3.75</span>
<span class="t" style="left:304.08px;top:295px;color:#000;font-size:12.5px;transform:scaleX(1.0584)">2.98</span>
<span class="t" style="left:368.17px;top:295px;color:#006100;font-size:12.5px;transform:scaleX(1.0252)">26.05%</span>
<span class="t" style="left:450.55px;top:295px;color:#000;font-size:12.5px;transform:scaleX(1.0608)">7.16</span>
<span class="t" style="left:522.91px;top:295px;color:#000;font-size:12.5px;transform:scaleX(1.0637)">7.14</span>
<span class="t" style="left:590.86px;top:295px;color:#006100;font-size:12.5px;transform:scaleX(1.0223)">0.36%</span>
<span class="t" style="left:669.76px;top:295px;color:#000;font-size:12.5px;transform:scaleX(1.0506)">3.98</span>
<span class="t" style="left:742.03px;top:295px;color:#000;font-size:12.5px;transform:scaleX(1.0646)">6.19</span>
<span class="t" style="left:803.96px;top:295px;color:#9C0006;font-size:12.5px;transform:scaleX(1.0301)">-35.80%</span>
<span class="t" style="left:910.15px;top:295px;color:#9C0006;font-size:12.5px;transform:scaleX(1.0250)">-7.40%</span>
<span class="t" style="left:23.70px;top:315px;color:#000;font-size:12.5px;transform:scaleX(1.0987)">01/19/2021</span>
<span class="t" style="left:143.70px;top:315px;color:#000;font-size:12.5px;transform:scaleX(1.0132)">Q4 20</span>
<span class="t" style="left:231.50px;top:315px;color:#000;font-size:12.5px;transform:scaleX(1.0530)">1.19</span>
<span class="t" style="left:304.05px;top:315px;color:#000;font-size:12.5px;transform:scaleX(1.0470)">1.38</span>
<span class="t" style="left:365.96px;top:315px;color:#9C0006;font-size:12.5px;transform:scaleX(1.0301)">-13.58%</span>
<span class="t" style="left:450.40px;top:315px;color:#000;font-size:12.5px;transform:scaleX(1.0653)">6.64</span>
<span class="t" style="left:523.06px;top:315px;color:#000;font-size:12.5px;transform:scaleX(1.0602)">6.63</span>
<span class="t" style="left:590.86px;top:315px;color:#006100;font-size:12.5px;transform:scaleX(1.0223)">0.29%</span>
<span class="t" style="left:669.67px;top:315px;color:#000;font-size:12.5px;transform:scaleX(1.0576)">8.51</span>
<span class="t" style="left:742.06px;top:315px;color:#000;font-size:12.5px;transform:scaleX(1.0602)">6.03</span>
<span class="t" style="left:806.32px;top:315px;color:#006100;font-size:12.5px;transform:scaleX(1.0265)">41.08%</span>
<span class="t" style="left:908.65px;top:315px;color:#006100;font-size:12.5px;transform:scaleX(1.0186)">16.85%</span>
<span class="t" style="left:23.49px;top:335px;color:#000;font-size:12.5px;transform:scaleX(1.0952)">10/20/2020</span>
<span class="t" style="left:143.70px;top:335px;color:#000;font-size:12.5px;transform:scaleX(1.0132)">Q3 20</span>
<span class="t" style="left:231.37px;top:335px;color:#000;font-size:12.5px;transform:scaleX(1.0538)">1.74</span>
<span class="t" style="left:304.06px;top:335px;color:#000;font-size:12.5px;transform:scaleX(1.0599)">2.13</span>
<span class="t" style="left:365.96px;top:335px;color:#9C0006;font-size:12.5px;transform:scaleX(1.0301)">-18.23%</span>
<span class="t" style="left:450.40px;top:335px;color:#000;font-size:12.5px;transform:scaleX(1.0653)">6.44</span>
<span class="t" style="left:523.03px;top:335px;color:#000;font-size:12.5px;transform:scaleX(1.0646)">6.39</span>
<span class="t" style="left:590.86px;top:335px;color:#006100;font-size:12.5px;transform:scaleX(1.0223)">0.80%</span>
<span class="t" style="left:669.47px;top:335px;color:#000;font-size:12.5px;transform:scaleX(1.0648)">2.20</span>
<span class="t" style="left:742.21px;top:335px;color:#000;font-size:12.5px;transform:scaleX(1.0565)">3.19</span>
<span class="t" style="left:803.96px;top:335px;color:#9C0006;font-size:12.5px;transform:scaleX(1.0301)">-30.94%</span>
<span class="t" style="left:910.15px;top:335px;color:#9C0006;font-size:12.5px;transform:scaleX(1.0250)">-6.92%</span>
<span class="t" style="left:23.56px;top:355px;color:#000;font-size:12.5px;transform:scaleX(1.1009)">07/16/2020</span>
<span class="t" style="left:143.70px;top:355px;color:#000;font-size:12.5px;transform:scaleX(1.0132)">Q2 20</span>
<span class="t" style="left:231.50px;top:355px;color:#000;font-size:12.5px;transform:scaleX(1.0530)">1.59</span>
<span class="t" style="left:304.06px;top:355px;color:#000;font-size:12.5px;transform:scaleX(1.0494)">1.82</span>
<span class="t" style="left:365.96px;top:355px;color:#9C0006;font-size:12.5px;transform:scaleX(1.0301)">-12.49%</span>
<span class="t" style="left:450.72px;top:355px;color:#000;font-size:12.5px;transform:scaleX(1.0460)">6.15</span>
<span class="t" style="left:523.03px;top:355px;color:#000;font-size:12.5px;transform:scaleX(1.0646)">6.09</span>
<span class="t" style="left:590.84px;top:355px;color:#006100;font-size:12.5px;transform:scaleX(1.0104)">1.00%</span>
<span class="t" style="left:665.82px;top:355px;color:#000;font-size:12.5px;transform:scaleX(1.0543)">10.09</span>
<span class="t" style="left:742.28px;top:355px;color:#000;font-size:12.5px;transform:scaleX(1.0449)">8.25</span>
<span class="t" style="left:806.17px;top:355px;color:#006100;font-size:12.5px;transform:scaleX(1.0252)">22.31%</span>
<span class="t" style="left:910.15px;top:355px;color:#9C0006;font-size:12.5px;transform:scaleX(1.0250)">-6.52%</span>
<span class="t" style="left:23.56px;top:375px;color:#000;font-size:12.5px;transform:scaleX(1.1009)">04/21/2020</span>
<span class="t" style="left:143.70px;top:375px;color:#000;font-size:12.5px;transform:scaleX(1.0132)">Q1 20</span>
<span class="t" style="left:231.48px;top:375px;color:#000;font-size:12.5px;transform:scaleX(1.0560)">1.57</span>
<span class="t" style="left:303.87px;top:375px;color:#000;font-size:12.5px;transform:scaleX(1.0538)">1.64</span>
<span class="t" style="left:369.65px;top:375px;color:#9C0006;font-size:12.5px;transform:scaleX(1.0250)">-4.21%</span>
<span class="t" style="left:450.66px;top:375px;color:#000;font-size:12.5px;transform:scaleX(1.0611)">5.77</span>
<span class="t" style="left:523.05px;top:375px;color:#000;font-size:12.5px;transform:scaleX(1.0589)">5.74</span>
<span class="t" style="left:590.86px;top:375px;color:#006100;font-size:12.5px;transform:scaleX(1.0223)">0.49%</span>
<span class="t" style="left:665.80px;top:375px;color:#000;font-size:12.5px;transform:scaleX(1.0566)">15.77</span>
<span class="t" style="left:742.03px;top:375px;color:#000;font-size:12.5px;transform:scaleX(1.0660)">7.87</span>
<span class="t" style="left:802.46px;top:375px;color:#006100;font-size:12.5px;transform:scaleX(1.0244)">100.35%</span>
<span class="t" style="left:910.15px;top:375px;color:#9C0006;font-size:12.5px;transform:scaleX(1.0250)">-2.86%</span>
<span class="t" style="left:23.56px;top:395px;color:#000;font-size:12.5px;transform:scaleX(1.1009)">01/21/2020</span>
<span class="t" style="left:143.76px;top:395px;color:#000;font-size:12.5px;transform:scaleX(1.0128)">Q4 19</span>
<span class="t" style="left:231.44px;top:395px;color:#000;font-size:12.5px;transform:scaleX(1.0535)">1.30</span>
<span class="t" style="left:304.07px;top:395px;color:#000;font-size:12.5px;transform:scaleX(1.0654)">0.53</span>
<span class="t" style="left:364.46px;top:395px;color:#006100;font-size:12.5px;transform:scaleX(1.0244)">145.28%</span>
<span class="t" style="left:450.66px;top:395px;color:#000;font-size:12.5px;transform:scaleX(1.0611)">5.47</span>
<span class="t" style="left:523.37px;top:395px;color:#000;font-size:12.5px;transform:scaleX(1.0396)">5.45</span>
<span class="t" style="left:590.86px;top:395px;color:#006100;font-size:12.5px;transform:scaleX(1.0223)">0.28%</span>
<span class="t" style="left:669.59px;top:395px;color:#000;font-size:12.5px;transform:scaleX(1.0612)">8.76</span>
<span class="t" style="left:742.07px;top:395px;color:#000;font-size:12.5px;transform:scaleX(1.0587)">7.73</span>
<span class="t" style="left:806.15px;top:395px;color:#006100;font-size:12.5px;transform:scaleX(1.0186)">13.20%</span>
<span class="t" style="left:910.15px;top:395px;color:#9C0006;font-size:12.5px;transform:scaleX(1.0250)">-3.58%</span>
<span class="t" style="left:23.55px;top:415px;color:#000;font-size:12.5px;transform:scaleX(1.0951)">10/16/2019</span>
<span class="t" style="left:143.76px;top:415px;color:#000;font-size:12.5px;transform:scaleX(1.0128)">Q3 19</span>
<span class="t" style="left:231.48px;top:415px;color:#000;font-size:12.5px;transform:scaleX(1.0560)">1.47</span>
<span class="t" style="left:304.20px;top:415px;color:#000;font-size:12.5px;transform:scaleX(1.0341)">1.05</span>
<span class="t" style="left:368.32px;top:415px;color:#006100;font-size:12.5px;transform:scaleX(1.0265)">40.67%</span>
<span class="t" style="left:450.87px;top:415px;color:#000;font-size:12.5px;transform:scaleX(1.0396)">5.25</span>
<span class="t" style="left:523.37px;top:415px;color:#000;font-size:12.5px;transform:scaleX(1.0396)">5.25</span>
<span class="t" style="left:588.65px;top:415px;color:#9C0006;font-size:12.5px;transform:scaleX(1.0250)">-0.04%</span>
<span class="t" style="left:669.51px;top:415px;color:#000;font-size:12.5px;transform:scaleX(1.0676)">6.77</span>
<span class="t" style="left:742.01px;top:415px;color:#000;font-size:12.5px;transform:scaleX(1.0676)">6.77</span>
<span class="t" style="left:809.86px;top:415px;color:#006100;font-size:12.5px;transform:scaleX(1.0223)">0.09%</span>
<span class="t" style="left:912.36px;top:415px;color:#006100;font-size:12.5px;transform:scaleX(1.0185)">2.47%</span>
<span class="t" style="left:23.62px;top:435px;color:#000;font-size:12.5px;transform:scaleX(1.1009)">07/17/2019</span>
<span class="t" style="left:143.76px;top:435px;color:#000;font-size:12.5px;transform:scaleX(1.0128)">Q2 19</span>
<span class="t" style="left:231.48px;top:435px;color:#000;font-size:12.5px;transform:scaleX(1.0702)">0.60</span>
<span class="t" style="left:304.05px;top:435px;color:#000;font-size:12.5px;transform:scaleX(1.0676)">0.56</span>
<span class="t" style="left:371.85px;top:435px;color:#006100;font-size:12.5px;transform:scaleX(1.0186)">6.38%</span>
<span class="t" style="left:450.76px;top:435px;color:#000;font-size:12.5px;transform:scaleX(1.0626)">4.92</span>
<span class="t" style="left:523.22px;top:435px;color:#000;font-size:12.5px;transform:scaleX(1.0617)">4.93</span>
<span class="t" style="left:588.65px;top:435px;color:#9C0006;font-size:12.5px;transform:scaleX(1.0250)">-0.08%</span>
<span class="t" style="left:669.73px;top:435px;color:#000;font-size:12.5px;transform:scaleX(1.0457)">2.55</span>
<span class="t" style="left:742.18px;top:435px;color:#000;font-size:12.5px;transform:scaleX(1.0559)">5.06</span>
<span class="t" style="left:803.96px;top:435px;color:#9C0006;font-size:12.5px;transform:scaleX(1.0301)">-49.70%</span>
<span class="t" style="left:906.46px;top:435px;color:#9C0006;font-size:12.5px;transform:scaleX(1.0301)">-10.27%</span>
</body></html>
